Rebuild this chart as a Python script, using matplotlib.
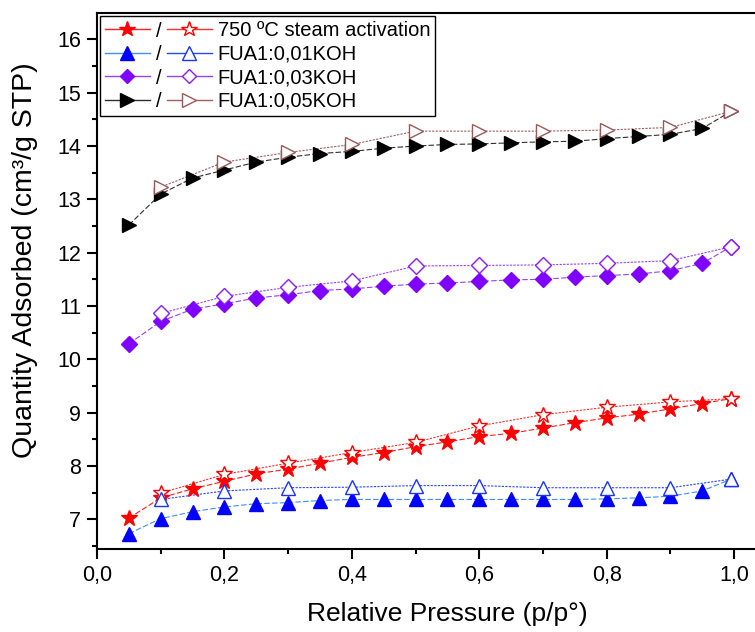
import numpy as np
from matplotlib import pyplot as plt
from matplotlib.lines import Line2D
from matplotlib.ticker import FuncFormatter, MultipleLocator

# %% data
p_ads = [0.05, 0.10, 0.15, 0.20, 0.25, 0.30, 0.35, 0.40, 0.45, 0.50,
         0.55, 0.60, 0.65, 0.70, 0.75, 0.80, 0.85, 0.90, 0.95, 0.995]
p_des = [0.995, 0.90, 0.80, 0.70, 0.60, 0.50, 0.40, 0.30, 0.20, 0.10]

steam_ads = [7.02, 7.40, 7.57, 7.71, 7.85, 7.94, 8.05, 8.16, 8.25, 8.36,
             8.45, 8.55, 8.61, 8.71, 8.81, 8.90, 8.97, 9.07, 9.17, 9.26]
steam_des = [9.26, 9.20, 9.10, 8.96, 8.75, 8.44, 8.25, 8.05, 7.84, 7.49]

koh01_ads = [6.73, 7.01, 7.14, 7.23, 7.29, 7.31, 7.35, 7.37, 7.37, 7.37,
             7.37, 7.37, 7.37, 7.37, 7.37, 7.38, 7.40, 7.43, 7.53, 7.75]
koh01_des = [7.75, 7.59, 7.59, 7.59, 7.63, 7.63, 7.60, 7.59, 7.53, 7.37]

koh03_ads = [10.29, 10.71, 10.94, 11.04, 11.15, 11.21, 11.29, 11.32, 11.37,
             11.41, 11.43, 11.46, 11.49, 11.50, 11.54, 11.57, 11.60, 11.66,
             11.80, 12.11]
koh03_des = [12.11, 11.85, 11.80, 11.77, 11.76, 11.75, 11.47, 11.35, 11.18,
             10.86]

koh05_ads = [12.52, 13.10, 13.40, 13.55, 13.70, 13.79, 13.86, 13.90, 13.96,
             14.00, 14.03, 14.04, 14.06, 14.08, 14.09, 14.14, 14.18, 14.22,
             14.33, 14.65]
koh05_des = [14.65, 14.35, 14.30, 14.28, 14.28, 14.28, 14.03, 13.88, 13.70,
             13.23]

labels = ['750 ºC steam activation', 'FUA1:0,01KOH',
          'FUA1:0,03KOH', 'FUA1:0,05KOH']

# %% styles
plt.rcParams['font.family'] = ['Liberation Sans', 'DejaVu Sans']

series = [
    # ads, des, marker, filled color, ads line, open color, des line
    (steam_ads, steam_des, '*', '#ff0000', '#ff2020', '#ff0000', '#ff3030'),
    (koh01_ads, koh01_des, '^', '#0000ff', '#3f8fff', '#1a33ff', '#2a45ff'),
    (koh03_ads, koh03_des, 'D', '#7f00ff', '#9a40ff', '#8a1aff', '#9a40ff'),
    (koh05_ads, koh05_des, '>', '#000000', '#303030', '#9a5a5a', '#a06060'),
]
msize = {'*': 12, '^': 10, 'D': 8, '>': 10}


class SlashHandler:
    """Legend entry drawn as  -filled-  /  -open-."""

    def legend_artist(self, legend, orig_handle, fontsize, handlebox):
        h_fill, h_open = orig_handle
        x0, y0 = handlebox.xdescent, handlebox.ydescent
        w, h = handlebox.width, handlebox.height
        yc = y0 + h / 2
        arts = []
        for hd, (a, b) in [(h_fill, (0.0, 0.42)), (h_open, (0.58, 1.0))]:
            ln = Line2D([x0 + a * w, x0 + b * w], [yc, yc],
                        color=hd.get_color(), lw=1.0)
            mk = Line2D([x0 + (a + b) / 2 * w], [yc], ls='none',
                        marker=hd.get_marker(),
                        markersize=hd.get_markersize() * 0.95,
                        markerfacecolor=hd.get_markerfacecolor(),
                        markeredgecolor=hd.get_markeredgecolor(),
                        markeredgewidth=hd.get_markeredgewidth())
            arts += [ln, mk]
        txt = plt.Text(x0 + 0.5 * w, yc, '/', ha='center',
                       va='center_baseline', fontsize=fontsize)
        arts.append(txt)
        for a in arts:
            a.set_transform(handlebox.get_transform())
            handlebox.add_artist(a)
        return arts[0]


fig = plt.figure(figsize=(7.55, 6.32), dpi=100)
ax = fig.add_axes([0.1285, 0.1313, 0.886, 0.8476])

handles = []
for ads, des, mk, fc, lc, oc, dlc in series:
    ms = msize[mk]
    ax.plot(p_ads, ads, color=lc, ls=(0, (5, 2)), lw=0.8, zorder=2)
    ax.plot(p_des, des, color=dlc, ls=(0, (2, 1.2)), lw=0.8, zorder=2)
    hf, = ax.plot(p_ads, ads, ls='none', marker=mk, ms=ms,
                  markerfacecolor=fc, markeredgecolor=fc, mew=1, zorder=3)
    ho, = ax.plot(p_des, des, ls='none', marker=mk, ms=ms,
                  markerfacecolor='white', markeredgecolor=oc, mew=1,
                  zorder=4)
    hf.set_color(lc)
    ho.set_color(dlc)
    handles.append((hf, ho))

ax.set_xlim(0, 1.05)
ax.set_ylim(6.44, 16.49)
ax.xaxis.set_major_locator(MultipleLocator(0.2))
ax.xaxis.set_minor_locator(MultipleLocator(0.1))
ax.yaxis.set_major_locator(MultipleLocator(1))
ax.yaxis.set_minor_locator(MultipleLocator(0.5))
ax.xaxis.set_major_formatter(
    FuncFormatter(lambda v, pos: f'{v:.1f}'.replace('.', ',')))
ax.set_yticks(range(7, 17))
ax.tick_params(which='major', direction='out', length=7, width=1.5,
               labelsize=15.5, pad=4.5)
ax.tick_params(which='minor', direction='out', length=3.5, width=1.5)
for s in ax.spines.values():
    s.set_linewidth(1.5)

ax.set_xlabel('Relative Pressure (p/p°)', fontsize=19)
ax.xaxis.set_label_coords(0.523, -0.098)
ax.set_ylabel('Quantity Adsorbed (cm³/g STP)', fontsize=20.5)
ax.yaxis.set_label_coords(-0.088, 0.54)

leg = ax.legend(handles, labels, handler_map={tuple: SlashHandler()},
                loc='upper left', bbox_to_anchor=(0.0, 1.0),
                borderaxespad=0.15, fontsize=14.5, handlelength=5.3,
                handletextpad=0.3, labelspacing=0.22, borderpad=0.25,
                fancybox=False, framealpha=1, edgecolor='black')
leg.get_frame().set_linewidth(1.0)

fig.savefig('out.png', dpi=100)
